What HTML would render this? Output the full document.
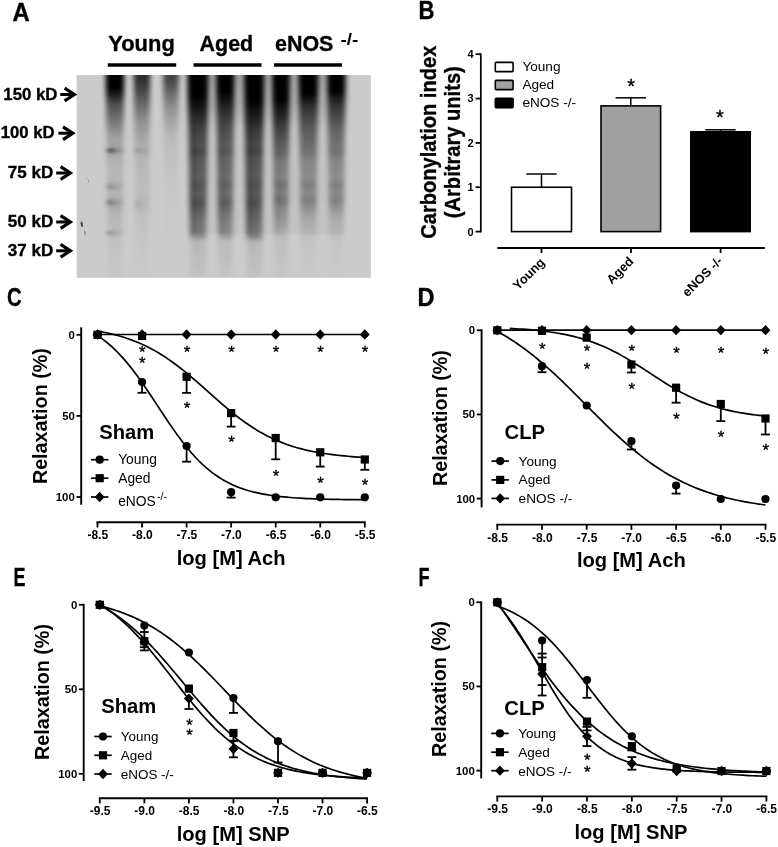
<!DOCTYPE html>
<html lang="en"><head><meta charset="utf-8"><title>Figure</title>
<style>
html,body{margin:0;padding:0;background:#fff;}
svg{display:block;font-family:'Liberation Sans', Arial, Helvetica, sans-serif;}
</style></head>
<body>
<svg width="778" height="847" viewBox="0 0 778 847" font-family="'Liberation Sans', Arial, Helvetica, sans-serif" fill="#000">
<rect x="0" y="0" width="778" height="847" fill="#fff"/>
<text x="12.60" y="21.20" font-size="25" font-weight="bold" textLength="17.20" lengthAdjust="spacingAndGlyphs" stroke="#000" stroke-width="0.35">A</text>
<text x="418.40" y="18.60" font-size="25" font-weight="bold" textLength="16.00" lengthAdjust="spacingAndGlyphs" stroke="#000" stroke-width="0.35">B</text>
<text x="7.00" y="306.10" font-size="25" font-weight="bold" textLength="14.60" lengthAdjust="spacingAndGlyphs" stroke="#000" stroke-width="0.35">C</text>
<text x="417.60" y="306.00" font-size="25" font-weight="bold" textLength="17.00" lengthAdjust="spacingAndGlyphs" stroke="#000" stroke-width="0.35">D</text>
<text x="13.60" y="586.00" font-size="25" font-weight="bold" textLength="12.00" lengthAdjust="spacingAndGlyphs" stroke="#000" stroke-width="0.35">E</text>
<text x="418.40" y="586.00" font-size="25" font-weight="bold" textLength="11.00" lengthAdjust="spacingAndGlyphs" stroke="#000" stroke-width="0.35">F</text>
<defs>
<clipPath id="blotclip"><rect x="76.6" y="75.1" width="294.30" height="202.70"/></clipPath>
<filter id="bblur" x="-20%" y="-20%" width="140%" height="140%"><feGaussianBlur stdDeviation="2.6 1.8"/></filter>
<linearGradient id="haze" gradientUnits="userSpaceOnUse" x1="0" y1="60" x2="0" y2="130"><stop offset="0" stop-color="#000" stop-opacity=".22"/><stop offset=".5" stop-color="#000" stop-opacity=".16"/><stop offset="1" stop-color="#000" stop-opacity="0"/></linearGradient>
<linearGradient id="lg0" gradientUnits="userSpaceOnUse" x1="0" y1="60" x2="0" y2="278">
<stop offset="0.0000" stop-color="#000" stop-opacity="1"/>
<stop offset="0.1284" stop-color="#000" stop-opacity="1"/>
<stop offset="0.1606" stop-color="#000" stop-opacity="0.85"/>
<stop offset="0.2064" stop-color="#000" stop-opacity="0.6"/>
<stop offset="0.2752" stop-color="#000" stop-opacity="0.43"/>
<stop offset="0.3211" stop-color="#000" stop-opacity="0.3"/>
<stop offset="0.3624" stop-color="#000" stop-opacity="0.2"/>
<stop offset="0.3991" stop-color="#000" stop-opacity="0.2"/>
<stop offset="0.4156" stop-color="#000" stop-opacity="0.32"/>
<stop offset="0.4358" stop-color="#000" stop-opacity="0.16"/>
<stop offset="0.5046" stop-color="#000" stop-opacity="0.1"/>
<stop offset="0.5596" stop-color="#000" stop-opacity="0.12"/>
<stop offset="0.5803" stop-color="#000" stop-opacity="0.2"/>
<stop offset="0.6055" stop-color="#000" stop-opacity="0.12"/>
<stop offset="0.6330" stop-color="#000" stop-opacity="0.14"/>
<stop offset="0.6541" stop-color="#000" stop-opacity="0.24"/>
<stop offset="0.6881" stop-color="#000" stop-opacity="0.12"/>
<stop offset="0.7706" stop-color="#000" stop-opacity="0.08"/>
<stop offset="0.7936" stop-color="#000" stop-opacity="0.16"/>
<stop offset="0.8165" stop-color="#000" stop-opacity="0.05"/>
<stop offset="1.0000" stop-color="#000" stop-opacity="0.02"/>
</linearGradient>
<linearGradient id="lg1" gradientUnits="userSpaceOnUse" x1="0" y1="60" x2="0" y2="278">
<stop offset="0.0000" stop-color="#000" stop-opacity="0.82"/>
<stop offset="0.0688" stop-color="#000" stop-opacity="0.8"/>
<stop offset="0.1147" stop-color="#000" stop-opacity="0.72"/>
<stop offset="0.1606" stop-color="#000" stop-opacity="0.6"/>
<stop offset="0.2064" stop-color="#000" stop-opacity="0.48"/>
<stop offset="0.2752" stop-color="#000" stop-opacity="0.3"/>
<stop offset="0.3440" stop-color="#000" stop-opacity="0.2"/>
<stop offset="0.3899" stop-color="#000" stop-opacity="0.14"/>
<stop offset="0.4156" stop-color="#000" stop-opacity="0.2"/>
<stop offset="0.4404" stop-color="#000" stop-opacity="0.12"/>
<stop offset="0.5505" stop-color="#000" stop-opacity="0.08"/>
<stop offset="0.6239" stop-color="#000" stop-opacity="0.08"/>
<stop offset="0.6560" stop-color="#000" stop-opacity="0.12"/>
<stop offset="0.7110" stop-color="#000" stop-opacity="0.06"/>
<stop offset="0.8257" stop-color="#000" stop-opacity="0.03"/>
<stop offset="1.0000" stop-color="#000" stop-opacity="0.01"/>
</linearGradient>
<linearGradient id="lg2" gradientUnits="userSpaceOnUse" x1="0" y1="60" x2="0" y2="278">
<stop offset="0.0000" stop-color="#000" stop-opacity="0.7"/>
<stop offset="0.0826" stop-color="#000" stop-opacity="0.68"/>
<stop offset="0.1147" stop-color="#000" stop-opacity="0.6"/>
<stop offset="0.1606" stop-color="#000" stop-opacity="0.45"/>
<stop offset="0.2064" stop-color="#000" stop-opacity="0.32"/>
<stop offset="0.2752" stop-color="#000" stop-opacity="0.2"/>
<stop offset="0.3440" stop-color="#000" stop-opacity="0.1"/>
<stop offset="0.4128" stop-color="#000" stop-opacity="0.06"/>
<stop offset="0.5505" stop-color="#000" stop-opacity="0.03"/>
<stop offset="0.7339" stop-color="#000" stop-opacity="0.01"/>
<stop offset="1.0000" stop-color="#000" stop-opacity="0"/>
</linearGradient>
<linearGradient id="lg3" gradientUnits="userSpaceOnUse" x1="0" y1="60" x2="0" y2="278">
<stop offset="0.0000" stop-color="#000" stop-opacity="1"/>
<stop offset="0.1606" stop-color="#000" stop-opacity="1"/>
<stop offset="0.2064" stop-color="#000" stop-opacity="0.9"/>
<stop offset="0.2523" stop-color="#000" stop-opacity="0.8"/>
<stop offset="0.2890" stop-color="#000" stop-opacity="0.72"/>
<stop offset="0.3440" stop-color="#000" stop-opacity="0.64"/>
<stop offset="0.3945" stop-color="#000" stop-opacity="0.59"/>
<stop offset="0.4174" stop-color="#000" stop-opacity="0.64"/>
<stop offset="0.4495" stop-color="#000" stop-opacity="0.56"/>
<stop offset="0.5275" stop-color="#000" stop-opacity="0.51"/>
<stop offset="0.5780" stop-color="#000" stop-opacity="0.57"/>
<stop offset="0.6147" stop-color="#000" stop-opacity="0.52"/>
<stop offset="0.6541" stop-color="#000" stop-opacity="0.59"/>
<stop offset="0.6972" stop-color="#000" stop-opacity="0.5"/>
<stop offset="0.7431" stop-color="#000" stop-opacity="0.42"/>
<stop offset="0.7890" stop-color="#000" stop-opacity="0.38"/>
<stop offset="0.8073" stop-color="#000" stop-opacity="0.32"/>
<stop offset="0.8303" stop-color="#000" stop-opacity="0.1"/>
<stop offset="0.9174" stop-color="#000" stop-opacity="0.07"/>
<stop offset="1.0000" stop-color="#000" stop-opacity="0.04"/>
</linearGradient>
<linearGradient id="lg4" gradientUnits="userSpaceOnUse" x1="0" y1="60" x2="0" y2="278">
<stop offset="0.0000" stop-color="#000" stop-opacity="1"/>
<stop offset="0.1468" stop-color="#000" stop-opacity="1"/>
<stop offset="0.1927" stop-color="#000" stop-opacity="0.86"/>
<stop offset="0.2385" stop-color="#000" stop-opacity="0.74"/>
<stop offset="0.2844" stop-color="#000" stop-opacity="0.65"/>
<stop offset="0.3440" stop-color="#000" stop-opacity="0.57"/>
<stop offset="0.3945" stop-color="#000" stop-opacity="0.52"/>
<stop offset="0.4174" stop-color="#000" stop-opacity="0.57"/>
<stop offset="0.4495" stop-color="#000" stop-opacity="0.49"/>
<stop offset="0.5275" stop-color="#000" stop-opacity="0.44"/>
<stop offset="0.5780" stop-color="#000" stop-opacity="0.5"/>
<stop offset="0.6147" stop-color="#000" stop-opacity="0.44"/>
<stop offset="0.6541" stop-color="#000" stop-opacity="0.52"/>
<stop offset="0.6972" stop-color="#000" stop-opacity="0.42"/>
<stop offset="0.7431" stop-color="#000" stop-opacity="0.34"/>
<stop offset="0.7890" stop-color="#000" stop-opacity="0.3"/>
<stop offset="0.8073" stop-color="#000" stop-opacity="0.24"/>
<stop offset="0.8303" stop-color="#000" stop-opacity="0.08"/>
<stop offset="0.9174" stop-color="#000" stop-opacity="0.06"/>
<stop offset="1.0000" stop-color="#000" stop-opacity="0.03"/>
</linearGradient>
<linearGradient id="lg5" gradientUnits="userSpaceOnUse" x1="0" y1="60" x2="0" y2="278">
<stop offset="0.0000" stop-color="#000" stop-opacity="1"/>
<stop offset="0.1835" stop-color="#000" stop-opacity="1"/>
<stop offset="0.2294" stop-color="#000" stop-opacity="0.9"/>
<stop offset="0.2752" stop-color="#000" stop-opacity="0.82"/>
<stop offset="0.3119" stop-color="#000" stop-opacity="0.73"/>
<stop offset="0.3578" stop-color="#000" stop-opacity="0.65"/>
<stop offset="0.3945" stop-color="#000" stop-opacity="0.61"/>
<stop offset="0.4174" stop-color="#000" stop-opacity="0.66"/>
<stop offset="0.4495" stop-color="#000" stop-opacity="0.58"/>
<stop offset="0.5275" stop-color="#000" stop-opacity="0.54"/>
<stop offset="0.5780" stop-color="#000" stop-opacity="0.59"/>
<stop offset="0.6147" stop-color="#000" stop-opacity="0.54"/>
<stop offset="0.6541" stop-color="#000" stop-opacity="0.6"/>
<stop offset="0.6972" stop-color="#000" stop-opacity="0.52"/>
<stop offset="0.7431" stop-color="#000" stop-opacity="0.46"/>
<stop offset="0.7890" stop-color="#000" stop-opacity="0.41"/>
<stop offset="0.8119" stop-color="#000" stop-opacity="0.34"/>
<stop offset="0.8349" stop-color="#000" stop-opacity="0.1"/>
<stop offset="0.9174" stop-color="#000" stop-opacity="0.07"/>
<stop offset="1.0000" stop-color="#000" stop-opacity="0.04"/>
</linearGradient>
<linearGradient id="lg6" gradientUnits="userSpaceOnUse" x1="0" y1="60" x2="0" y2="278">
<stop offset="0.0000" stop-color="#000" stop-opacity="1"/>
<stop offset="0.1835" stop-color="#000" stop-opacity="1"/>
<stop offset="0.2202" stop-color="#000" stop-opacity="0.88"/>
<stop offset="0.2661" stop-color="#000" stop-opacity="0.78"/>
<stop offset="0.3028" stop-color="#000" stop-opacity="0.68"/>
<stop offset="0.3440" stop-color="#000" stop-opacity="0.6"/>
<stop offset="0.3899" stop-color="#000" stop-opacity="0.52"/>
<stop offset="0.4312" stop-color="#000" stop-opacity="0.47"/>
<stop offset="0.4587" stop-color="#000" stop-opacity="0.38"/>
<stop offset="0.5413" stop-color="#000" stop-opacity="0.33"/>
<stop offset="0.5734" stop-color="#000" stop-opacity="0.42"/>
<stop offset="0.6055" stop-color="#000" stop-opacity="0.35"/>
<stop offset="0.6486" stop-color="#000" stop-opacity="0.42"/>
<stop offset="0.6789" stop-color="#000" stop-opacity="0.3"/>
<stop offset="0.7294" stop-color="#000" stop-opacity="0.24"/>
<stop offset="0.7936" stop-color="#000" stop-opacity="0.12"/>
<stop offset="0.8257" stop-color="#000" stop-opacity="0.06"/>
<stop offset="1.0000" stop-color="#000" stop-opacity="0.02"/>
</linearGradient>
<linearGradient id="lg7" gradientUnits="userSpaceOnUse" x1="0" y1="60" x2="0" y2="278">
<stop offset="0.0000" stop-color="#000" stop-opacity="1"/>
<stop offset="0.1560" stop-color="#000" stop-opacity="1"/>
<stop offset="0.1835" stop-color="#000" stop-opacity="0.86"/>
<stop offset="0.2156" stop-color="#000" stop-opacity="0.73"/>
<stop offset="0.2752" stop-color="#000" stop-opacity="0.6"/>
<stop offset="0.3303" stop-color="#000" stop-opacity="0.52"/>
<stop offset="0.3899" stop-color="#000" stop-opacity="0.45"/>
<stop offset="0.4312" stop-color="#000" stop-opacity="0.41"/>
<stop offset="0.4587" stop-color="#000" stop-opacity="0.33"/>
<stop offset="0.5413" stop-color="#000" stop-opacity="0.28"/>
<stop offset="0.5734" stop-color="#000" stop-opacity="0.36"/>
<stop offset="0.6055" stop-color="#000" stop-opacity="0.3"/>
<stop offset="0.6486" stop-color="#000" stop-opacity="0.36"/>
<stop offset="0.6789" stop-color="#000" stop-opacity="0.26"/>
<stop offset="0.7294" stop-color="#000" stop-opacity="0.15"/>
<stop offset="0.7936" stop-color="#000" stop-opacity="0.08"/>
<stop offset="0.8257" stop-color="#000" stop-opacity="0.04"/>
<stop offset="1.0000" stop-color="#000" stop-opacity="0.01"/>
</linearGradient>
<linearGradient id="lg8" gradientUnits="userSpaceOnUse" x1="0" y1="60" x2="0" y2="278">
<stop offset="0.0000" stop-color="#000" stop-opacity="1"/>
<stop offset="0.1422" stop-color="#000" stop-opacity="1"/>
<stop offset="0.1743" stop-color="#000" stop-opacity="0.84"/>
<stop offset="0.2156" stop-color="#000" stop-opacity="0.69"/>
<stop offset="0.2752" stop-color="#000" stop-opacity="0.57"/>
<stop offset="0.3303" stop-color="#000" stop-opacity="0.48"/>
<stop offset="0.4037" stop-color="#000" stop-opacity="0.4"/>
<stop offset="0.4220" stop-color="#000" stop-opacity="0.44"/>
<stop offset="0.4495" stop-color="#000" stop-opacity="0.33"/>
<stop offset="0.5413" stop-color="#000" stop-opacity="0.28"/>
<stop offset="0.5734" stop-color="#000" stop-opacity="0.36"/>
<stop offset="0.6055" stop-color="#000" stop-opacity="0.3"/>
<stop offset="0.6486" stop-color="#000" stop-opacity="0.34"/>
<stop offset="0.6789" stop-color="#000" stop-opacity="0.24"/>
<stop offset="0.7294" stop-color="#000" stop-opacity="0.13"/>
<stop offset="0.7936" stop-color="#000" stop-opacity="0.07"/>
<stop offset="0.8257" stop-color="#000" stop-opacity="0.03"/>
<stop offset="1.0000" stop-color="#000" stop-opacity="0.01"/>
</linearGradient>
</defs>
<rect x="76.6" y="75.1" width="294.30" height="202.70" fill="#cbcbcb"/>
<g clip-path="url(#blotclip)"><g filter="url(#bblur)">
<rect x="186" y="60" width="162" height="70" fill="url(#haze)"/>
<rect x="188" y="100" width="157" height="134" fill="#000" opacity="0.04"/>
<rect x="190.5" y="120" width="5" height="114" fill="#000" opacity="0.16"/>
<rect x="218.5" y="120" width="5" height="114" fill="#000" opacity="0.12"/>
<rect x="246.5" y="120" width="5" height="114" fill="#000" opacity="0.18"/>
<rect x="274.5" y="120" width="5" height="114" fill="#000" opacity="0.08"/>
<path d="M105.50 60L124.50 60L121.84 278L108.16 278Z" fill="url(#lg0)"/>
<path d="M133.50 60L150.50 60L148.12 278L135.88 278Z" fill="url(#lg1)"/>
<path d="M163.00 60L179.00 60L176.76 278L165.24 278Z" fill="url(#lg2)"/>
<path d="M187.50 60L208.50 60L205.56 278L190.44 278Z" fill="url(#lg3)"/>
<path d="M216.05 60L234.55 60L231.96 278L218.64 278Z" fill="url(#lg4)"/>
<path d="M243.95 60L264.45 60L261.58 278L246.82 278Z" fill="url(#lg5)"/>
<path d="M272.00 60L290.00 60L287.48 278L274.52 278Z" fill="url(#lg6)"/>
<path d="M298.40 60L318.40 60L315.60 278L301.20 278Z" fill="url(#lg7)"/>
<path d="M327.05 60L345.55 60L342.96 278L329.64 278Z" fill="url(#lg8)"/>
<ellipse cx="110.8" cy="150.6" rx="4.2" ry="2.0" fill="#000" opacity="0.5"/>
<ellipse cx="109.8" cy="186.5" rx="4" ry="3" fill="#000" opacity="0.14"/>
<ellipse cx="109.8" cy="202.6" rx="4" ry="3" fill="#000" opacity="0.22"/>
<ellipse cx="109.2" cy="233" rx="2.6" ry="1.8" fill="#000" opacity="0.3"/>
<ellipse cx="137.6" cy="150.6" rx="2.6" ry="1.6" fill="#000" opacity="0.18"/>
<ellipse cx="137.2" cy="204" rx="2" ry="4" fill="#000" opacity="0.1"/>
</g>
<ellipse cx="81.8" cy="224.3" rx="1.1" ry="2.9" fill="#222" opacity=".8" transform="rotate(-12 81.8 224.3)"/>
<ellipse cx="84.8" cy="233.0" rx="0.7" ry="2.6" fill="#444" opacity=".55" transform="rotate(-8 84.8 233)"/>
<path d="M87 178 q2.5 1 1.5 5" stroke="#999" stroke-width="0.8" fill="none"/>
</g>
<text x="108.20" y="51.20" font-size="22.6" font-weight="bold" textLength="66.60" lengthAdjust="spacingAndGlyphs" stroke="#000" stroke-width="0.35">Young</text>
<text x="199.60" y="51.20" font-size="22.6" font-weight="bold" textLength="53.60" lengthAdjust="spacingAndGlyphs" stroke="#000" stroke-width="0.35">Aged</text>
<text x="275.00" y="51.20" font-size="22.6" font-weight="bold" textLength="58.40" lengthAdjust="spacingAndGlyphs" stroke="#000" stroke-width="0.35">eNOS</text>
<text x="340.40" y="44.60" font-size="17" font-weight="bold" textLength="17.80" lengthAdjust="spacingAndGlyphs">-/-</text>
<line x1="107.80" y1="65.00" x2="176.20" y2="65.00" stroke="#000" stroke-width="3.4"/>
<line x1="193.50" y1="65.00" x2="261.60" y2="65.00" stroke="#000" stroke-width="3.4"/>
<line x1="274.00" y1="65.00" x2="342.00" y2="65.00" stroke="#000" stroke-width="3.4"/>
<text x="3.30" y="99.80" font-size="16.2" font-weight="bold" textLength="54.10" lengthAdjust="spacingAndGlyphs" stroke="#000" stroke-width="0.35">150 kD</text>
<line x1="60.20" y1="94.50" x2="73.90" y2="94.50" stroke="#000" stroke-width="3.0"/>
<path d="M64.60 88.10L74.40 94.50L64.60 100.90" fill="none" stroke="#000" stroke-width="3.2" stroke-linejoin="miter"/>
<text x="0.80" y="138.00" font-size="16.2" font-weight="bold" textLength="53.70" lengthAdjust="spacingAndGlyphs" stroke="#000" stroke-width="0.35">100 kD</text>
<line x1="58.40" y1="133.20" x2="72.30" y2="133.20" stroke="#000" stroke-width="3.0"/>
<path d="M63.00 126.80L72.80 133.20L63.00 139.60" fill="none" stroke="#000" stroke-width="3.2" stroke-linejoin="miter"/>
<text x="7.80" y="178.20" font-size="16.2" font-weight="bold" textLength="45.40" lengthAdjust="spacingAndGlyphs" stroke="#000" stroke-width="0.35">75 kD</text>
<line x1="56.20" y1="173.00" x2="69.90" y2="173.00" stroke="#000" stroke-width="3.0"/>
<path d="M60.60 166.60L70.40 173.00L60.60 179.40" fill="none" stroke="#000" stroke-width="3.2" stroke-linejoin="miter"/>
<text x="7.80" y="227.20" font-size="16.2" font-weight="bold" textLength="45.40" lengthAdjust="spacingAndGlyphs" stroke="#000" stroke-width="0.35">50 kD</text>
<line x1="56.20" y1="222.00" x2="69.90" y2="222.00" stroke="#000" stroke-width="3.0"/>
<path d="M60.60 215.60L70.40 222.00L60.60 228.40" fill="none" stroke="#000" stroke-width="3.2" stroke-linejoin="miter"/>
<text x="7.80" y="256.20" font-size="16.2" font-weight="bold" textLength="45.40" lengthAdjust="spacingAndGlyphs" stroke="#000" stroke-width="0.35">37 kD</text>
<line x1="56.20" y1="250.80" x2="69.90" y2="250.80" stroke="#000" stroke-width="3.0"/>
<path d="M60.60 244.40L70.40 250.80L60.60 257.20" fill="none" stroke="#000" stroke-width="3.2" stroke-linejoin="miter"/>
<line x1="480.80" y1="53.30" x2="480.80" y2="232.50" stroke="#000" stroke-width="1.7"/>
<line x1="475.60" y1="231.60" x2="480.80" y2="231.60" stroke="#000" stroke-width="1.8"/>
<text x="473.60" y="235.50" font-size="11" font-weight="bold" text-anchor="end">0</text>
<line x1="475.60" y1="187.25" x2="480.80" y2="187.25" stroke="#000" stroke-width="1.8"/>
<text x="473.60" y="191.15" font-size="11" font-weight="bold" text-anchor="end">1</text>
<line x1="475.60" y1="142.90" x2="480.80" y2="142.90" stroke="#000" stroke-width="1.8"/>
<text x="473.60" y="146.80" font-size="11" font-weight="bold" text-anchor="end">2</text>
<line x1="475.60" y1="98.55" x2="480.80" y2="98.55" stroke="#000" stroke-width="1.8"/>
<text x="473.60" y="102.45" font-size="11" font-weight="bold" text-anchor="end">3</text>
<line x1="475.60" y1="54.20" x2="480.80" y2="54.20" stroke="#000" stroke-width="1.8"/>
<text x="473.60" y="58.10" font-size="11" font-weight="bold" text-anchor="end">4</text>
<line x1="497.40" y1="248.00" x2="764.80" y2="248.00" stroke="#000" stroke-width="1.8"/>
<line x1="541.50" y1="248.00" x2="541.50" y2="253.00" stroke="#000" stroke-width="1.8"/>
<line x1="631.00" y1="248.00" x2="631.00" y2="253.00" stroke="#000" stroke-width="1.8"/>
<line x1="720.60" y1="248.00" x2="720.60" y2="253.00" stroke="#000" stroke-width="1.8"/>
<line x1="541.50" y1="174.00" x2="541.50" y2="187.25" stroke="#000" stroke-width="1.5"/>
<line x1="526.30" y1="174.00" x2="556.70" y2="174.00" stroke="#000" stroke-width="1.5"/>
<rect x="511.50" y="187.25" width="60.00" height="44.35" fill="#fff" stroke="#000" stroke-width="1.6"/>
<line x1="630.80" y1="97.80" x2="630.80" y2="105.87" stroke="#000" stroke-width="1.5"/>
<line x1="615.60" y1="97.80" x2="646.00" y2="97.80" stroke="#000" stroke-width="1.5"/>
<rect x="601.00" y="105.87" width="59.60" height="125.73" fill="#a0a0a0" stroke="#000" stroke-width="1.6"/>
<line x1="720.50" y1="129.80" x2="720.50" y2="131.81" stroke="#000" stroke-width="1.5"/>
<line x1="705.30" y1="129.80" x2="735.70" y2="129.80" stroke="#000" stroke-width="1.5"/>
<rect x="690.80" y="131.81" width="59.40" height="99.79" fill="#000" stroke="#000" stroke-width="1.6"/>
<text x="631.20" y="92.66" font-size="20" text-anchor="middle" stroke="#000" stroke-width="0.35">*</text>
<text x="719.80" y="124.36" font-size="20" text-anchor="middle" stroke="#000" stroke-width="0.35">*</text>
<rect x="495.3" y="62.40" width="17.8" height="9.2" rx="0.8" fill="#fff" stroke="#000" stroke-width="1.6"/>
<text x="522.40" y="71.40" font-size="13.6">Young</text>
<rect x="495.3" y="80.40" width="17.8" height="9.2" rx="0.8" fill="#a0a0a0" stroke="#000" stroke-width="1.6"/>
<text x="522.40" y="89.40" font-size="13.6">Aged</text>
<rect x="495.3" y="98.40" width="17.8" height="9.2" rx="0.8" fill="#000" stroke="#000" stroke-width="1.6"/>
<text x="522.40" y="107.40" font-size="13.6">eNOS -/-</text>
<text x="545.60" y="263.20" font-size="12.8" font-weight="bold" text-anchor="end" transform="rotate(-45 545.60 263.20)">Young</text>
<text x="634.30" y="262.20" font-size="12.8" font-weight="bold" text-anchor="end" transform="rotate(-45 634.30 262.20)">Aged</text>
<text x="723.30" y="261.70" font-size="12.8" font-weight="bold" text-anchor="end" transform="rotate(-45 723.30 261.70)">eNOS -/-</text>
<text x="436.00" y="238.70" font-size="22.6" font-weight="bold" textLength="193.00" lengthAdjust="spacingAndGlyphs" transform="rotate(-90 436.00 238.70)" stroke="#000" stroke-width="0.35">Carbonylation index</text>
<text x="460.20" y="218.20" font-size="22.6" font-weight="bold" textLength="152.00" lengthAdjust="spacingAndGlyphs" transform="rotate(-90 460.20 218.20)" stroke="#000" stroke-width="0.35">(Arbitrary units)</text>
<line x1="81.20" y1="327.30" x2="81.20" y2="504.80" stroke="#000" stroke-width="1.9"/>
<line x1="76.40" y1="334.80" x2="81.20" y2="334.80" stroke="#000" stroke-width="1.8"/>
<text x="74.80" y="338.80" font-size="11.4" font-weight="bold" text-anchor="end">0</text>
<line x1="76.40" y1="415.90" x2="81.20" y2="415.90" stroke="#000" stroke-width="1.8"/>
<text x="74.80" y="419.90" font-size="11.4" font-weight="bold" text-anchor="end">50</text>
<line x1="76.40" y1="497.00" x2="81.20" y2="497.00" stroke="#000" stroke-width="1.8"/>
<text x="74.80" y="501.00" font-size="11.4" font-weight="bold" text-anchor="end">100</text>
<line x1="96.55" y1="522.30" x2="365.75" y2="522.30" stroke="#000" stroke-width="1.9"/>
<line x1="97.50" y1="522.30" x2="97.50" y2="527.50" stroke="#000" stroke-width="1.8"/>
<text x="97.80" y="539.30" font-size="12" font-weight="bold" text-anchor="middle">-8.5</text>
<line x1="142.05" y1="522.30" x2="142.05" y2="527.50" stroke="#000" stroke-width="1.8"/>
<text x="142.35" y="539.30" font-size="12" font-weight="bold" text-anchor="middle">-8.0</text>
<line x1="186.60" y1="522.30" x2="186.60" y2="527.50" stroke="#000" stroke-width="1.8"/>
<text x="186.90" y="539.30" font-size="12" font-weight="bold" text-anchor="middle">-7.5</text>
<line x1="231.15" y1="522.30" x2="231.15" y2="527.50" stroke="#000" stroke-width="1.8"/>
<text x="231.45" y="539.30" font-size="12" font-weight="bold" text-anchor="middle">-7.0</text>
<line x1="275.70" y1="522.30" x2="275.70" y2="527.50" stroke="#000" stroke-width="1.8"/>
<text x="276.00" y="539.30" font-size="12" font-weight="bold" text-anchor="middle">-6.5</text>
<line x1="320.25" y1="522.30" x2="320.25" y2="527.50" stroke="#000" stroke-width="1.8"/>
<text x="320.55" y="539.30" font-size="12" font-weight="bold" text-anchor="middle">-6.0</text>
<line x1="364.80" y1="522.30" x2="364.80" y2="527.50" stroke="#000" stroke-width="1.8"/>
<text x="365.10" y="539.30" font-size="12" font-weight="bold" text-anchor="middle">-5.5</text>
<text x="176.70" y="564.80" font-size="20.6" font-weight="bold" textLength="108.80" lengthAdjust="spacingAndGlyphs">log [M] Ach</text>
<text x="46.70" y="484.10" font-size="21" font-weight="bold" textLength="136.00" lengthAdjust="spacingAndGlyphs" transform="rotate(-90 46.70 484.10)">Relaxation (%)</text>
<text x="99.30" y="438.70" font-size="20.2" font-weight="bold">Sham</text>
<line x1="91.00" y1="459.70" x2="108.40" y2="459.70" stroke="#000" stroke-width="1.7"/>
<circle cx="99.70" cy="459.70" r="4.1"/>
<text x="118.20" y="464.20" font-size="13.8">Young</text>
<line x1="91.00" y1="478.20" x2="108.40" y2="478.20" stroke="#000" stroke-width="1.7"/>
<rect x="95.60" y="474.10" width="8.2" height="8.2"/>
<text x="118.20" y="482.80" font-size="13.8">Aged</text>
<line x1="91.00" y1="497.00" x2="108.40" y2="497.00" stroke="#000" stroke-width="1.7"/>
<path d="M94.75 497.00L99.70 491.85L104.65 497.00L99.70 502.15Z"/>
<text x="118.20" y="506.20" font-size="13.8">eNOS</text>
<text x="157.00" y="499.60" font-size="10.5">-/-</text>
<path d="M97.50 335.49L100.88 337.81L104.27 340.33L107.65 343.06L111.03 345.99L114.42 349.14L117.80 352.50L121.18 356.08L124.57 359.88L127.95 363.89L131.34 368.10L134.72 372.50L138.10 377.08L141.49 381.82L144.87 386.69L148.25 391.68L151.64 396.76L155.02 401.88L158.40 407.04L161.79 412.19L165.17 417.30L168.55 422.35L171.94 427.30L175.32 432.13L178.71 436.82L182.09 441.34L185.47 445.68L188.86 449.82L192.24 453.76L195.62 457.48L199.01 460.99L202.39 464.27L205.77 467.34L209.16 470.20L212.54 472.86L215.92 475.31L219.31 477.57L222.69 479.65L226.07 481.56L229.46 483.31L232.84 484.91L236.23 486.37L239.61 487.69L242.99 488.90L246.38 489.99L249.76 490.98L253.14 491.88L256.53 492.69L259.91 493.43L263.29 494.09L266.68 494.69L270.06 495.23L273.44 495.71L276.83 496.15L280.21 496.54L283.59 496.90L286.98 497.21L290.36 497.50L293.75 497.76L297.13 497.99L300.51 498.20L303.90 498.38L307.28 498.55L310.66 498.70L314.05 498.83L317.43 498.95L320.81 499.06L324.20 499.16L327.58 499.25L330.96 499.33L334.35 499.40L337.73 499.46L341.12 499.51L344.50 499.56L347.88 499.61L351.27 499.65L354.65 499.69L358.03 499.72L361.42 499.75L364.80 499.77" fill="none" stroke="#000" stroke-width="1.7" stroke-linejoin="round"/>
<path d="M97.50 331.04L100.88 331.65L104.27 332.32L107.65 333.03L111.03 333.81L114.42 334.65L117.80 335.55L121.18 336.52L124.57 337.56L127.95 338.69L131.34 339.89L134.72 341.18L138.10 342.55L141.49 344.02L144.87 345.58L148.25 347.25L151.64 349.01L155.02 350.87L158.40 352.84L161.79 354.90L165.17 357.08L168.55 359.35L171.94 361.72L175.32 364.19L178.71 366.75L182.09 369.40L185.47 372.12L188.86 374.92L192.24 377.78L195.62 380.69L199.01 383.64L202.39 386.63L205.77 389.64L209.16 392.65L212.54 395.67L215.92 398.66L219.31 401.63L222.69 404.57L226.07 407.45L229.46 410.28L232.84 413.04L236.23 415.72L239.61 418.32L242.99 420.83L246.38 423.25L249.76 425.57L253.14 427.79L256.53 429.91L259.91 431.92L263.29 433.83L266.68 435.64L270.06 437.35L273.44 438.95L276.83 440.47L280.21 441.89L283.59 443.21L286.98 444.46L290.36 445.61L293.75 446.69L297.13 447.70L300.51 448.63L303.90 449.50L307.28 450.30L310.66 451.05L314.05 451.73L317.43 452.37L320.81 452.96L324.20 453.50L327.58 454.00L330.96 454.46L334.35 454.89L337.73 455.28L341.12 455.64L344.50 455.97L347.88 456.27L351.27 456.55L354.65 456.81L358.03 457.04L361.42 457.26L364.80 457.46" fill="none" stroke="#000" stroke-width="1.7" stroke-linejoin="round"/>
<line x1="97.50" y1="334.50" x2="364.80" y2="334.50" stroke="#000" stroke-width="1.7"/>
<line x1="142.05" y1="382.00" x2="142.05" y2="392.80" stroke="#000" stroke-width="1.8"/>
<line x1="137.60" y1="392.80" x2="146.50" y2="392.80" stroke="#000" stroke-width="1.8"/>
<line x1="186.60" y1="446.00" x2="186.60" y2="461.70" stroke="#000" stroke-width="1.8"/>
<line x1="182.15" y1="461.70" x2="191.05" y2="461.70" stroke="#000" stroke-width="1.8"/>
<line x1="231.15" y1="492.20" x2="231.15" y2="497.60" stroke="#000" stroke-width="1.8"/>
<line x1="226.70" y1="497.60" x2="235.60" y2="497.60" stroke="#000" stroke-width="1.8"/>
<line x1="186.60" y1="376.80" x2="186.60" y2="392.90" stroke="#000" stroke-width="1.8"/>
<line x1="182.15" y1="392.90" x2="191.05" y2="392.90" stroke="#000" stroke-width="1.8"/>
<line x1="231.15" y1="413.10" x2="231.15" y2="426.60" stroke="#000" stroke-width="1.8"/>
<line x1="226.70" y1="426.60" x2="235.60" y2="426.60" stroke="#000" stroke-width="1.8"/>
<line x1="275.70" y1="438.00" x2="275.70" y2="459.30" stroke="#000" stroke-width="1.8"/>
<line x1="271.25" y1="459.30" x2="280.15" y2="459.30" stroke="#000" stroke-width="1.8"/>
<line x1="320.25" y1="452.30" x2="320.25" y2="466.60" stroke="#000" stroke-width="1.8"/>
<line x1="315.80" y1="466.60" x2="324.70" y2="466.60" stroke="#000" stroke-width="1.8"/>
<line x1="364.80" y1="459.50" x2="364.80" y2="469.80" stroke="#000" stroke-width="1.8"/>
<line x1="360.35" y1="469.80" x2="369.25" y2="469.80" stroke="#000" stroke-width="1.8"/>
<circle cx="97.50" cy="334.80" r="4.1"/>
<circle cx="142.05" cy="382.00" r="4.1"/>
<circle cx="186.60" cy="446.00" r="4.1"/>
<circle cx="231.15" cy="492.20" r="4.1"/>
<circle cx="275.70" cy="497.30" r="4.1"/>
<circle cx="320.25" cy="497.30" r="4.1"/>
<circle cx="364.80" cy="497.30" r="4.1"/>
<rect x="93.40" y="330.70" width="8.2" height="8.2"/>
<rect x="137.95" y="331.90" width="8.2" height="8.2"/>
<rect x="182.50" y="372.70" width="8.2" height="8.2"/>
<rect x="227.05" y="409.00" width="8.2" height="8.2"/>
<rect x="271.60" y="433.90" width="8.2" height="8.2"/>
<rect x="316.15" y="448.20" width="8.2" height="8.2"/>
<rect x="360.70" y="455.40" width="8.2" height="8.2"/>
<path d="M92.55 334.50L97.50 329.35L102.45 334.50L97.50 339.65Z"/>
<path d="M137.10 334.50L142.05 329.35L147.00 334.50L142.05 339.65Z"/>
<path d="M181.65 334.50L186.60 329.35L191.55 334.50L186.60 339.65Z"/>
<path d="M226.20 334.50L231.15 329.35L236.10 334.50L231.15 339.65Z"/>
<path d="M270.75 334.50L275.70 329.35L280.65 334.50L275.70 339.65Z"/>
<path d="M315.30 334.50L320.25 329.35L325.20 334.50L320.25 339.65Z"/>
<path d="M359.85 334.50L364.80 329.35L369.75 334.50L364.80 339.65Z"/>
<text x="142.35" y="358.02" font-size="16.8" text-anchor="middle" stroke="#000" stroke-width="0.35">*</text>
<text x="186.90" y="358.02" font-size="16.8" text-anchor="middle" stroke="#000" stroke-width="0.35">*</text>
<text x="231.45" y="358.02" font-size="16.8" text-anchor="middle" stroke="#000" stroke-width="0.35">*</text>
<text x="276.00" y="358.02" font-size="16.8" text-anchor="middle" stroke="#000" stroke-width="0.35">*</text>
<text x="320.55" y="358.02" font-size="16.8" text-anchor="middle" stroke="#000" stroke-width="0.35">*</text>
<text x="365.10" y="358.02" font-size="16.8" text-anchor="middle" stroke="#000" stroke-width="0.35">*</text>
<text x="142.35" y="369.42" font-size="16.8" text-anchor="middle" stroke="#000" stroke-width="0.35">*</text>
<text x="186.90" y="414.02" font-size="16.8" text-anchor="middle" stroke="#000" stroke-width="0.35">*</text>
<text x="231.45" y="448.02" font-size="16.8" text-anchor="middle" stroke="#000" stroke-width="0.35">*</text>
<text x="276.00" y="482.42" font-size="16.8" text-anchor="middle" stroke="#000" stroke-width="0.35">*</text>
<text x="320.55" y="489.42" font-size="16.8" text-anchor="middle" stroke="#000" stroke-width="0.35">*</text>
<text x="365.10" y="490.82" font-size="16.8" text-anchor="middle" stroke="#000" stroke-width="0.35">*</text>
<line x1="481.60" y1="329.30" x2="481.60" y2="507.40" stroke="#000" stroke-width="1.9"/>
<line x1="476.80" y1="330.30" x2="481.60" y2="330.30" stroke="#000" stroke-width="1.8"/>
<text x="475.20" y="334.30" font-size="11.4" font-weight="bold" text-anchor="end">0</text>
<line x1="476.80" y1="414.45" x2="481.60" y2="414.45" stroke="#000" stroke-width="1.8"/>
<text x="475.20" y="418.45" font-size="11.4" font-weight="bold" text-anchor="end">50</text>
<line x1="476.80" y1="498.60" x2="481.60" y2="498.60" stroke="#000" stroke-width="1.8"/>
<text x="475.20" y="502.60" font-size="11.4" font-weight="bold" text-anchor="end">100</text>
<line x1="496.35" y1="524.60" x2="766.45" y2="524.60" stroke="#000" stroke-width="1.9"/>
<line x1="497.30" y1="524.60" x2="497.30" y2="529.80" stroke="#000" stroke-width="1.8"/>
<text x="497.60" y="541.60" font-size="12" font-weight="bold" text-anchor="middle">-8.5</text>
<line x1="542.00" y1="524.60" x2="542.00" y2="529.80" stroke="#000" stroke-width="1.8"/>
<text x="542.30" y="541.60" font-size="12" font-weight="bold" text-anchor="middle">-8.0</text>
<line x1="586.70" y1="524.60" x2="586.70" y2="529.80" stroke="#000" stroke-width="1.8"/>
<text x="587.00" y="541.60" font-size="12" font-weight="bold" text-anchor="middle">-7.5</text>
<line x1="631.40" y1="524.60" x2="631.40" y2="529.80" stroke="#000" stroke-width="1.8"/>
<text x="631.70" y="541.60" font-size="12" font-weight="bold" text-anchor="middle">-7.0</text>
<line x1="676.10" y1="524.60" x2="676.10" y2="529.80" stroke="#000" stroke-width="1.8"/>
<text x="676.40" y="541.60" font-size="12" font-weight="bold" text-anchor="middle">-6.5</text>
<line x1="720.80" y1="524.60" x2="720.80" y2="529.80" stroke="#000" stroke-width="1.8"/>
<text x="721.10" y="541.60" font-size="12" font-weight="bold" text-anchor="middle">-6.0</text>
<line x1="765.50" y1="524.60" x2="765.50" y2="529.80" stroke="#000" stroke-width="1.8"/>
<text x="765.80" y="541.60" font-size="12" font-weight="bold" text-anchor="middle">-5.5</text>
<text x="576.90" y="566.80" font-size="20.6" font-weight="bold" textLength="108.80" lengthAdjust="spacingAndGlyphs">log [M] Ach</text>
<text x="447.00" y="486.10" font-size="21" font-weight="bold" textLength="136.00" lengthAdjust="spacingAndGlyphs" transform="rotate(-90 447.00 486.10)">Relaxation (%)</text>
<text x="504.60" y="438.60" font-size="20.2" font-weight="bold">CLP</text>
<line x1="491.50" y1="461.10" x2="508.90" y2="461.10" stroke="#000" stroke-width="1.7"/>
<circle cx="500.20" cy="461.10" r="4.1"/>
<text x="518.60" y="465.60" font-size="13.6">Young</text>
<line x1="491.50" y1="479.90" x2="508.90" y2="479.90" stroke="#000" stroke-width="1.7"/>
<rect x="496.10" y="475.80" width="8.2" height="8.2"/>
<text x="518.60" y="484.40" font-size="13.6">Aged</text>
<line x1="491.50" y1="498.40" x2="508.90" y2="498.40" stroke="#000" stroke-width="1.7"/>
<path d="M495.25 498.40L500.20 493.25L505.15 498.40L500.20 503.55Z"/>
<text x="518.60" y="503.00" font-size="13.6">eNOS -/-</text>
<path d="M497.30 331.40L500.69 333.28L504.09 335.25L507.48 337.30L510.88 339.44L514.27 341.65L517.67 343.95L521.06 346.34L524.46 348.81L527.85 351.36L531.25 353.99L534.64 356.70L538.04 359.49L541.43 362.35L544.83 365.28L548.22 368.29L551.62 371.36L555.01 374.49L558.41 377.67L561.80 380.91L565.20 384.19L568.59 387.51L571.99 390.86L575.38 394.24L578.78 397.64L582.17 401.06L585.57 404.48L588.96 407.90L592.36 411.32L595.75 414.72L599.15 418.10L602.54 421.45L605.94 424.77L609.33 428.05L612.73 431.29L616.12 434.47L619.52 437.60L622.91 440.67L626.31 443.67L629.70 446.60L633.10 449.46L636.49 452.25L639.89 454.96L643.28 457.59L646.68 460.14L650.07 462.61L653.47 464.99L656.86 467.29L660.26 469.50L663.65 471.64L667.05 473.68L670.44 475.65L673.84 477.54L677.23 479.34L680.63 481.07L684.02 482.73L687.42 484.30L690.81 485.81L694.21 487.24L697.60 488.61L701.00 489.91L704.39 491.14L707.79 492.32L711.18 493.43L714.58 494.49L717.97 495.49L721.37 496.44L724.76 497.34L728.16 498.20L731.55 499.00L734.95 499.77L738.34 500.49L741.74 501.17L745.13 501.81L748.53 502.42L751.92 502.99L755.32 503.53L758.71 504.04L762.11 504.52L765.50 504.98" fill="none" stroke="#000" stroke-width="1.7" stroke-linejoin="round"/>
<path d="M509.82 328.45L513.05 328.62L516.29 328.80L519.53 328.99L522.76 329.21L526.00 329.44L529.24 329.70L532.47 329.97L535.71 330.27L538.94 330.60L542.18 330.96L545.42 331.35L548.65 331.77L551.89 332.22L555.13 332.72L558.36 333.25L561.60 333.83L564.84 334.45L568.07 335.13L571.31 335.85L574.55 336.63L577.78 337.47L581.02 338.37L584.26 339.33L587.49 340.36L590.73 341.46L593.97 342.62L597.20 343.86L600.44 345.17L603.67 346.56L606.91 348.02L610.15 349.55L613.38 351.16L616.62 352.83L619.86 354.57L623.09 356.38L626.33 358.25L629.57 360.17L632.80 362.15L636.04 364.16L639.28 366.21L642.51 368.29L645.75 370.39L648.99 372.50L652.22 374.61L655.46 376.72L658.70 378.81L661.93 380.88L665.17 382.91L668.40 384.91L671.64 386.86L674.88 388.76L678.11 390.61L681.35 392.39L684.59 394.10L687.82 395.75L691.06 397.32L694.30 398.82L697.53 400.25L700.77 401.60L704.01 402.88L707.24 404.09L710.48 405.22L713.72 406.29L716.95 407.29L720.19 408.22L723.43 409.10L726.66 409.91L729.90 410.67L733.13 411.37L736.37 412.02L739.61 412.63L742.84 413.18L746.08 413.70L749.32 414.18L752.55 414.62L755.79 415.02L759.03 415.40L762.26 415.74L765.50 416.06" fill="none" stroke="#000" stroke-width="1.7" stroke-linejoin="round"/>
<line x1="497.30" y1="330.20" x2="765.50" y2="330.20" stroke="#000" stroke-width="1.7"/>
<line x1="542.00" y1="366.20" x2="542.00" y2="372.20" stroke="#000" stroke-width="1.8"/>
<line x1="537.55" y1="372.20" x2="546.45" y2="372.20" stroke="#000" stroke-width="1.8"/>
<line x1="631.40" y1="441.20" x2="631.40" y2="449.50" stroke="#000" stroke-width="1.8"/>
<line x1="626.95" y1="449.50" x2="635.85" y2="449.50" stroke="#000" stroke-width="1.8"/>
<line x1="676.10" y1="485.60" x2="676.10" y2="493.60" stroke="#000" stroke-width="1.8"/>
<line x1="671.65" y1="493.60" x2="680.55" y2="493.60" stroke="#000" stroke-width="1.8"/>
<line x1="631.40" y1="364.50" x2="631.40" y2="372.50" stroke="#000" stroke-width="1.8"/>
<line x1="626.95" y1="372.50" x2="635.85" y2="372.50" stroke="#000" stroke-width="1.8"/>
<line x1="676.10" y1="387.70" x2="676.10" y2="402.70" stroke="#000" stroke-width="1.8"/>
<line x1="671.65" y1="402.70" x2="680.55" y2="402.70" stroke="#000" stroke-width="1.8"/>
<line x1="720.80" y1="404.00" x2="720.80" y2="421.10" stroke="#000" stroke-width="1.8"/>
<line x1="716.35" y1="421.10" x2="725.25" y2="421.10" stroke="#000" stroke-width="1.8"/>
<line x1="765.50" y1="418.50" x2="765.50" y2="434.50" stroke="#000" stroke-width="1.8"/>
<line x1="761.05" y1="434.50" x2="769.95" y2="434.50" stroke="#000" stroke-width="1.8"/>
<circle cx="497.30" cy="330.30" r="4.1"/>
<circle cx="542.00" cy="366.20" r="4.1"/>
<circle cx="586.70" cy="405.50" r="4.1"/>
<circle cx="631.40" cy="441.20" r="4.1"/>
<circle cx="676.10" cy="485.60" r="4.1"/>
<circle cx="720.80" cy="499.00" r="4.1"/>
<circle cx="765.50" cy="499.00" r="4.1"/>
<rect x="493.20" y="326.20" width="8.2" height="8.2"/>
<rect x="537.90" y="326.70" width="8.2" height="8.2"/>
<rect x="582.60" y="333.50" width="8.2" height="8.2"/>
<rect x="627.30" y="360.40" width="8.2" height="8.2"/>
<rect x="672.00" y="383.60" width="8.2" height="8.2"/>
<rect x="716.70" y="399.90" width="8.2" height="8.2"/>
<rect x="761.40" y="414.40" width="8.2" height="8.2"/>
<path d="M492.35 330.20L497.30 325.05L502.25 330.20L497.30 335.35Z"/>
<path d="M537.05 330.20L542.00 325.05L546.95 330.20L542.00 335.35Z"/>
<path d="M581.75 330.20L586.70 325.05L591.65 330.20L586.70 335.35Z"/>
<path d="M626.45 330.20L631.40 325.05L636.35 330.20L631.40 335.35Z"/>
<path d="M671.15 330.20L676.10 325.05L681.05 330.20L676.10 335.35Z"/>
<path d="M715.85 330.20L720.80 325.05L725.75 330.20L720.80 335.35Z"/>
<path d="M760.55 330.20L765.50 325.05L770.45 330.20L765.50 335.35Z"/>
<text x="542.30" y="355.02" font-size="16.8" text-anchor="middle" stroke="#000" stroke-width="0.35">*</text>
<text x="587.00" y="357.22" font-size="16.8" text-anchor="middle" stroke="#000" stroke-width="0.35">*</text>
<text x="631.70" y="357.02" font-size="16.8" text-anchor="middle" stroke="#000" stroke-width="0.35">*</text>
<text x="676.40" y="358.62" font-size="16.8" text-anchor="middle" stroke="#000" stroke-width="0.35">*</text>
<text x="721.10" y="358.62" font-size="16.8" text-anchor="middle" stroke="#000" stroke-width="0.35">*</text>
<text x="765.80" y="359.92" font-size="16.8" text-anchor="middle" stroke="#000" stroke-width="0.35">*</text>
<text x="587.00" y="375.02" font-size="16.8" text-anchor="middle" stroke="#000" stroke-width="0.35">*</text>
<text x="631.70" y="395.22" font-size="16.8" text-anchor="middle" stroke="#000" stroke-width="0.35">*</text>
<text x="676.40" y="424.62" font-size="16.8" text-anchor="middle" stroke="#000" stroke-width="0.35">*</text>
<text x="721.10" y="443.32" font-size="16.8" text-anchor="middle" stroke="#000" stroke-width="0.35">*</text>
<text x="765.80" y="455.92" font-size="16.8" text-anchor="middle" stroke="#000" stroke-width="0.35">*</text>
<line x1="83.70" y1="603.80" x2="83.70" y2="781.00" stroke="#000" stroke-width="1.9"/>
<line x1="78.90" y1="604.80" x2="83.70" y2="604.80" stroke="#000" stroke-width="1.8"/>
<text x="77.30" y="608.80" font-size="11.4" font-weight="bold" text-anchor="end">0</text>
<line x1="78.90" y1="689.30" x2="83.70" y2="689.30" stroke="#000" stroke-width="1.8"/>
<text x="77.30" y="693.30" font-size="11.4" font-weight="bold" text-anchor="end">50</text>
<line x1="78.90" y1="773.80" x2="83.70" y2="773.80" stroke="#000" stroke-width="1.8"/>
<text x="77.30" y="777.80" font-size="11.4" font-weight="bold" text-anchor="end">100</text>
<line x1="98.85" y1="798.20" x2="368.05" y2="798.20" stroke="#000" stroke-width="1.9"/>
<line x1="99.80" y1="798.20" x2="99.80" y2="803.40" stroke="#000" stroke-width="1.8"/>
<text x="100.10" y="815.20" font-size="12" font-weight="bold" text-anchor="middle">-9.5</text>
<line x1="144.35" y1="798.20" x2="144.35" y2="803.40" stroke="#000" stroke-width="1.8"/>
<text x="144.65" y="815.20" font-size="12" font-weight="bold" text-anchor="middle">-9.0</text>
<line x1="188.90" y1="798.20" x2="188.90" y2="803.40" stroke="#000" stroke-width="1.8"/>
<text x="189.20" y="815.20" font-size="12" font-weight="bold" text-anchor="middle">-8.5</text>
<line x1="233.45" y1="798.20" x2="233.45" y2="803.40" stroke="#000" stroke-width="1.8"/>
<text x="233.75" y="815.20" font-size="12" font-weight="bold" text-anchor="middle">-8.0</text>
<line x1="278.00" y1="798.20" x2="278.00" y2="803.40" stroke="#000" stroke-width="1.8"/>
<text x="278.30" y="815.20" font-size="12" font-weight="bold" text-anchor="middle">-7.5</text>
<line x1="322.55" y1="798.20" x2="322.55" y2="803.40" stroke="#000" stroke-width="1.8"/>
<text x="322.85" y="815.20" font-size="12" font-weight="bold" text-anchor="middle">-7.0</text>
<line x1="367.10" y1="798.20" x2="367.10" y2="803.40" stroke="#000" stroke-width="1.8"/>
<text x="367.40" y="815.20" font-size="12" font-weight="bold" text-anchor="middle">-6.5</text>
<text x="176.70" y="841.00" font-size="20.6" font-weight="bold" textLength="113.00" lengthAdjust="spacingAndGlyphs">log [M] SNP</text>
<text x="49.00" y="760.00" font-size="21" font-weight="bold" textLength="136.00" lengthAdjust="spacingAndGlyphs" transform="rotate(-90 49.00 760.00)">Relaxation (%)</text>
<text x="101.20" y="712.90" font-size="20.2" font-weight="bold">Sham</text>
<line x1="94.30" y1="736.50" x2="111.70" y2="736.50" stroke="#000" stroke-width="1.7"/>
<circle cx="103.00" cy="736.50" r="4.1"/>
<text x="120.80" y="741.20" font-size="13.45">Young</text>
<line x1="94.30" y1="755.30" x2="111.70" y2="755.30" stroke="#000" stroke-width="1.7"/>
<rect x="98.90" y="751.20" width="8.2" height="8.2"/>
<text x="120.80" y="760.00" font-size="13.45">Aged</text>
<line x1="94.30" y1="774.00" x2="111.70" y2="774.00" stroke="#000" stroke-width="1.7"/>
<path d="M98.05 774.00L103.00 768.85L107.95 774.00L103.00 779.15Z"/>
<text x="120.80" y="778.80" font-size="13.45">eNOS -/-</text>
<path d="M99.80 605.90L103.18 606.76L106.57 607.66L109.95 608.63L113.33 609.66L116.72 610.76L120.10 611.92L123.48 613.15L126.87 614.46L130.25 615.85L133.64 617.32L137.02 618.88L140.40 620.52L143.79 622.25L147.17 624.07L150.55 625.98L153.94 628.00L157.32 630.11L160.70 632.32L164.09 634.63L167.47 637.04L170.85 639.55L174.24 642.16L177.62 644.87L181.01 647.67L184.39 650.56L187.77 653.55L191.16 656.62L194.54 659.76L197.92 662.99L201.31 666.28L204.69 669.63L208.07 673.03L211.46 676.48L214.84 679.97L218.22 683.48L221.61 687.02L224.99 690.56L228.37 694.10L231.76 697.63L235.14 701.14L238.53 704.62L241.91 708.06L245.29 711.46L248.68 714.80L252.06 718.08L255.44 721.29L258.83 724.42L262.21 727.48L265.59 730.45L268.98 733.33L272.36 736.12L275.74 738.81L279.13 741.40L282.51 743.90L285.89 746.29L289.28 748.58L292.66 750.78L296.05 752.87L299.43 754.87L302.81 756.77L306.20 758.58L309.58 760.29L312.96 761.92L316.35 763.46L319.73 764.92L323.11 766.29L326.50 767.59L329.88 768.81L333.26 769.96L336.65 771.05L340.03 772.07L343.42 773.03L346.80 773.93L350.18 774.77L353.57 775.56L356.95 776.30L360.33 776.99L363.72 777.64L367.10 778.25" fill="none" stroke="#000" stroke-width="1.7" stroke-linejoin="round"/>
<path d="M99.80 605.20L103.18 607.02L106.57 608.95L109.95 611.00L113.33 613.16L116.72 615.45L120.10 617.86L123.48 620.39L126.87 623.05L130.25 625.84L133.64 628.75L137.02 631.79L140.40 634.95L143.79 638.23L147.17 641.63L150.55 645.13L153.94 648.74L157.32 652.44L160.70 656.23L164.09 660.09L167.47 664.01L170.85 667.99L174.24 672.02L177.62 676.07L181.01 680.13L184.39 684.20L187.77 688.26L191.16 692.29L194.54 696.29L197.92 700.23L201.31 704.12L204.69 707.93L208.07 711.66L211.46 715.30L214.84 718.84L218.22 722.28L221.61 725.60L224.99 728.80L228.37 731.88L231.76 734.84L235.14 737.67L238.53 740.38L241.91 742.96L245.29 745.41L248.68 747.74L252.06 749.94L255.44 752.03L258.83 754.00L262.21 755.86L265.59 757.61L268.98 759.25L272.36 760.80L275.74 762.24L279.13 763.60L282.51 764.87L285.89 766.05L289.28 767.16L292.66 768.19L296.05 769.15L299.43 770.05L302.81 770.88L306.20 771.66L309.58 772.38L312.96 773.05L316.35 773.67L319.73 774.25L323.11 774.78L326.50 775.28L329.88 775.74L333.26 776.16L336.65 776.56L340.03 776.92L343.42 777.26L346.80 777.57L350.18 777.86L353.57 778.13L356.95 778.38L360.33 778.61L363.72 778.82L367.10 779.01" fill="none" stroke="#000" stroke-width="1.7" stroke-linejoin="round"/>
<path d="M99.80 604.37L103.18 606.49L106.57 608.74L109.95 611.13L113.33 613.65L116.72 616.32L120.10 619.13L123.48 622.08L126.87 625.18L130.25 628.43L133.64 631.81L137.02 635.33L140.40 638.98L143.79 642.75L147.17 646.64L150.55 650.63L153.94 654.71L157.32 658.88L160.70 663.12L164.09 667.41L167.47 671.74L170.85 676.10L174.24 680.46L177.62 684.81L181.01 689.14L184.39 693.43L187.77 697.66L191.16 701.82L194.54 705.90L197.92 709.89L201.31 713.77L204.69 717.53L208.07 721.17L211.46 724.67L214.84 728.05L218.22 731.28L221.61 734.37L224.99 737.31L228.37 740.11L231.76 742.77L235.14 745.28L238.53 747.66L241.91 749.90L245.29 752.00L248.68 753.98L252.06 755.83L255.44 757.57L258.83 759.19L262.21 760.71L265.59 762.12L268.98 763.43L272.36 764.66L275.74 765.79L279.13 766.85L282.51 767.82L285.89 768.73L289.28 769.57L292.66 770.34L296.05 771.06L299.43 771.72L302.81 772.34L306.20 772.90L309.58 773.42L312.96 773.90L316.35 774.35L319.73 774.75L323.11 775.13L326.50 775.48L329.88 775.80L333.26 776.09L336.65 776.36L340.03 776.61L343.42 776.84L346.80 777.05L350.18 777.24L353.57 777.42L356.95 777.58L360.33 777.73L363.72 777.87L367.10 777.99" fill="none" stroke="#000" stroke-width="1.7" stroke-linejoin="round"/>
<line x1="144.35" y1="625.60" x2="144.35" y2="632.00" stroke="#000" stroke-width="1.8"/>
<line x1="139.90" y1="632.00" x2="148.80" y2="632.00" stroke="#000" stroke-width="1.8"/>
<line x1="144.35" y1="632.00" x2="144.35" y2="647.00" stroke="#000" stroke-width="1.8"/>
<line x1="233.45" y1="698.00" x2="233.45" y2="712.90" stroke="#000" stroke-width="1.8"/>
<line x1="229.00" y1="712.90" x2="237.90" y2="712.90" stroke="#000" stroke-width="1.8"/>
<line x1="278.00" y1="741.30" x2="278.00" y2="762.50" stroke="#000" stroke-width="1.8"/>
<line x1="273.55" y1="762.50" x2="282.45" y2="762.50" stroke="#000" stroke-width="1.8"/>
<line x1="144.35" y1="641.20" x2="144.35" y2="650.40" stroke="#000" stroke-width="1.8"/>
<line x1="139.90" y1="647.20" x2="148.80" y2="647.20" stroke="#000" stroke-width="1.8"/>
<line x1="139.90" y1="650.40" x2="148.80" y2="650.40" stroke="#000" stroke-width="1.8"/>
<line x1="233.45" y1="733.00" x2="233.45" y2="740.60" stroke="#000" stroke-width="1.8"/>
<line x1="229.00" y1="740.60" x2="237.90" y2="740.60" stroke="#000" stroke-width="1.8"/>
<line x1="188.90" y1="698.60" x2="188.90" y2="709.00" stroke="#000" stroke-width="1.8"/>
<line x1="184.45" y1="709.00" x2="193.35" y2="709.00" stroke="#000" stroke-width="1.8"/>
<line x1="233.45" y1="741.00" x2="233.45" y2="757.30" stroke="#000" stroke-width="1.8"/>
<line x1="229.00" y1="741.00" x2="237.90" y2="741.00" stroke="#000" stroke-width="1.8"/>
<line x1="229.00" y1="757.30" x2="237.90" y2="757.30" stroke="#000" stroke-width="1.8"/>
<circle cx="99.80" cy="604.80" r="4.1"/>
<circle cx="144.35" cy="625.60" r="4.1"/>
<circle cx="188.90" cy="652.50" r="4.1"/>
<circle cx="233.45" cy="698.00" r="4.1"/>
<circle cx="278.00" cy="741.30" r="4.1"/>
<circle cx="322.55" cy="772.90" r="4.1"/>
<circle cx="367.10" cy="772.90" r="4.1"/>
<rect x="95.70" y="600.70" width="8.2" height="8.2"/>
<rect x="140.25" y="637.10" width="8.2" height="8.2"/>
<rect x="184.80" y="684.50" width="8.2" height="8.2"/>
<rect x="229.35" y="728.90" width="8.2" height="8.2"/>
<rect x="273.90" y="768.80" width="8.2" height="8.2"/>
<rect x="318.45" y="768.80" width="8.2" height="8.2"/>
<rect x="363.00" y="768.80" width="8.2" height="8.2"/>
<path d="M94.85 604.80L99.80 599.65L104.75 604.80L99.80 609.95Z"/>
<path d="M139.40 642.00L144.35 636.85L149.30 642.00L144.35 647.15Z"/>
<path d="M183.95 698.60L188.90 693.45L193.85 698.60L188.90 703.75Z"/>
<path d="M228.50 749.00L233.45 743.85L238.40 749.00L233.45 754.15Z"/>
<path d="M273.05 772.90L278.00 767.75L282.95 772.90L278.00 778.05Z"/>
<path d="M317.60 772.90L322.55 767.75L327.50 772.90L322.55 778.05Z"/>
<path d="M362.15 772.90L367.10 767.75L372.05 772.90L367.10 778.05Z"/>
<text x="189.40" y="730.82" font-size="16.8" text-anchor="middle" stroke="#000" stroke-width="0.35">*</text>
<text x="189.40" y="741.02" font-size="16.8" text-anchor="middle" stroke="#000" stroke-width="0.35">*</text>
<line x1="481.20" y1="601.30" x2="481.20" y2="778.40" stroke="#000" stroke-width="1.9"/>
<line x1="476.40" y1="602.30" x2="481.20" y2="602.30" stroke="#000" stroke-width="1.8"/>
<text x="474.80" y="606.30" font-size="11.4" font-weight="bold" text-anchor="end">0</text>
<line x1="476.40" y1="686.45" x2="481.20" y2="686.45" stroke="#000" stroke-width="1.8"/>
<text x="474.80" y="690.45" font-size="11.4" font-weight="bold" text-anchor="end">50</text>
<line x1="476.40" y1="770.60" x2="481.20" y2="770.60" stroke="#000" stroke-width="1.8"/>
<text x="474.80" y="774.60" font-size="11.4" font-weight="bold" text-anchor="end">100</text>
<line x1="496.35" y1="796.40" x2="767.35" y2="796.40" stroke="#000" stroke-width="1.9"/>
<line x1="497.30" y1="796.40" x2="497.30" y2="801.60" stroke="#000" stroke-width="1.8"/>
<text x="497.60" y="813.40" font-size="12" font-weight="bold" text-anchor="middle">-9.5</text>
<line x1="542.15" y1="796.40" x2="542.15" y2="801.60" stroke="#000" stroke-width="1.8"/>
<text x="542.45" y="813.40" font-size="12" font-weight="bold" text-anchor="middle">-9.0</text>
<line x1="587.00" y1="796.40" x2="587.00" y2="801.60" stroke="#000" stroke-width="1.8"/>
<text x="587.30" y="813.40" font-size="12" font-weight="bold" text-anchor="middle">-8.5</text>
<line x1="631.85" y1="796.40" x2="631.85" y2="801.60" stroke="#000" stroke-width="1.8"/>
<text x="632.15" y="813.40" font-size="12" font-weight="bold" text-anchor="middle">-8.0</text>
<line x1="676.70" y1="796.40" x2="676.70" y2="801.60" stroke="#000" stroke-width="1.8"/>
<text x="677.00" y="813.40" font-size="12" font-weight="bold" text-anchor="middle">-7.5</text>
<line x1="721.55" y1="796.40" x2="721.55" y2="801.60" stroke="#000" stroke-width="1.8"/>
<text x="721.85" y="813.40" font-size="12" font-weight="bold" text-anchor="middle">-7.0</text>
<line x1="766.40" y1="796.40" x2="766.40" y2="801.60" stroke="#000" stroke-width="1.8"/>
<text x="766.70" y="813.40" font-size="12" font-weight="bold" text-anchor="middle">-6.5</text>
<text x="574.40" y="838.80" font-size="20.6" font-weight="bold" textLength="113.00" lengthAdjust="spacingAndGlyphs">log [M] SNP</text>
<text x="445.80" y="756.90" font-size="21" font-weight="bold" textLength="136.00" lengthAdjust="spacingAndGlyphs" transform="rotate(-90 445.80 756.90)">Relaxation (%)</text>
<text x="504.30" y="714.90" font-size="20.2" font-weight="bold">CLP</text>
<line x1="491.20" y1="733.40" x2="508.60" y2="733.40" stroke="#000" stroke-width="1.7"/>
<circle cx="499.90" cy="733.40" r="4.1"/>
<text x="518.30" y="738.40" font-size="13.5">Young</text>
<line x1="491.20" y1="752.20" x2="508.60" y2="752.20" stroke="#000" stroke-width="1.7"/>
<rect x="495.80" y="748.10" width="8.2" height="8.2"/>
<text x="518.30" y="757.40" font-size="13.5">Aged</text>
<line x1="491.20" y1="770.70" x2="508.60" y2="770.70" stroke="#000" stroke-width="1.7"/>
<path d="M494.95 770.70L499.90 765.55L504.85 770.70L499.90 775.85Z"/>
<text x="518.30" y="776.20" font-size="13.5">eNOS -/-</text>
<path d="M497.30 605.99L500.71 607.23L504.11 608.57L507.52 610.02L510.93 611.60L514.33 613.30L517.74 615.14L521.14 617.12L524.55 619.25L527.96 621.53L531.36 623.97L534.77 626.58L538.18 629.35L541.58 632.29L544.99 635.40L548.39 638.69L551.80 642.13L555.21 645.74L558.61 649.50L562.02 653.41L565.43 657.45L568.83 661.62L572.24 665.89L575.65 670.24L579.05 674.67L582.46 679.14L585.86 683.65L589.27 688.16L592.68 692.65L596.08 697.11L599.49 701.52L602.90 705.85L606.30 710.08L609.71 714.21L613.12 718.21L616.52 722.07L619.93 725.78L623.33 729.33L626.74 732.73L630.15 735.95L633.55 739.01L636.96 741.89L640.37 744.61L643.77 747.16L647.18 749.55L650.58 751.78L653.99 753.86L657.40 755.79L660.80 757.58L664.21 759.24L667.62 760.77L671.02 762.19L674.43 763.49L677.84 764.69L681.24 765.80L684.65 766.81L688.05 767.74L691.46 768.59L694.87 769.36L698.27 770.08L701.68 770.73L705.09 771.32L708.49 771.86L711.90 772.35L715.31 772.80L718.71 773.21L722.12 773.59L725.52 773.93L728.93 774.24L732.34 774.52L735.74 774.77L739.15 775.01L742.56 775.22L745.96 775.41L749.37 775.59L752.77 775.74L756.18 775.89L759.59 776.02L762.99 776.14L766.40 776.25" fill="none" stroke="#000" stroke-width="1.7" stroke-linejoin="round"/>
<path d="M497.30 602.27L500.71 607.25L504.11 612.29L507.52 617.37L510.93 622.49L514.33 627.62L517.74 632.76L521.14 637.90L524.55 643.01L527.96 648.09L531.36 653.13L534.77 658.11L538.18 663.02L541.58 667.85L544.99 672.59L548.39 677.23L551.80 681.76L555.21 686.18L558.61 690.48L562.02 694.64L565.43 698.68L568.83 702.58L572.24 706.34L575.65 709.95L579.05 713.43L582.46 716.77L585.86 719.96L589.27 723.02L592.68 725.93L596.08 728.71L599.49 731.35L602.90 733.87L606.30 736.25L609.71 738.52L613.12 740.66L616.52 742.69L619.93 744.60L623.33 746.41L626.74 748.12L630.15 749.73L633.55 751.25L636.96 752.68L640.37 754.02L643.77 755.28L647.18 756.46L650.58 757.58L653.99 758.62L657.40 759.60L660.80 760.51L664.21 761.37L667.62 762.18L671.02 762.93L674.43 763.63L677.84 764.29L681.24 764.91L684.65 765.49L688.05 766.02L691.46 766.53L694.87 767.00L698.27 767.43L701.68 767.84L705.09 768.23L708.49 768.58L711.90 768.91L715.31 769.22L718.71 769.51L722.12 769.78L725.52 770.04L728.93 770.27L732.34 770.49L735.74 770.69L739.15 770.88L742.56 771.06L745.96 771.22L749.37 771.38L752.77 771.52L756.18 771.65L759.59 771.78L762.99 771.90L766.40 772.00" fill="none" stroke="#000" stroke-width="1.7" stroke-linejoin="round"/>
<path d="M497.30 604.22L500.71 608.08L504.11 612.19L507.52 616.56L510.93 621.19L514.33 626.05L517.74 631.14L521.14 636.44L524.55 641.92L527.96 647.56L531.36 653.32L534.77 659.18L538.18 665.10L541.58 671.03L544.99 676.94L548.39 682.80L551.80 688.56L555.21 694.19L558.61 699.67L562.02 704.96L565.43 710.04L568.83 714.89L572.24 719.51L575.65 723.87L579.05 727.98L582.46 731.82L585.86 735.41L589.27 738.75L592.68 741.83L596.08 744.68L599.49 747.30L602.90 749.71L606.30 751.91L609.71 753.92L613.12 755.75L616.52 757.41L619.93 758.92L623.33 760.29L626.74 761.53L630.15 762.64L633.55 763.65L636.96 764.56L640.37 765.38L643.77 766.11L647.18 766.77L650.58 767.37L653.99 767.90L657.40 768.38L660.80 768.81L664.21 769.19L667.62 769.53L671.02 769.84L674.43 770.12L677.84 770.36L681.24 770.59L684.65 770.78L688.05 770.96L691.46 771.12L694.87 771.26L698.27 771.39L701.68 771.50L705.09 771.60L708.49 771.69L711.90 771.77L715.31 771.84L718.71 771.91L722.12 771.96L725.52 772.01L728.93 772.06L732.34 772.10L735.74 772.14L739.15 772.17L742.56 772.20L745.96 772.22L749.37 772.25L752.77 772.27L756.18 772.29L759.59 772.30L762.99 772.32L766.40 772.33" fill="none" stroke="#000" stroke-width="1.7" stroke-linejoin="round"/>
<line x1="542.15" y1="640.50" x2="542.15" y2="695.50" stroke="#000" stroke-width="1.8"/>
<line x1="537.70" y1="653.60" x2="546.60" y2="653.60" stroke="#000" stroke-width="1.8"/>
<line x1="537.70" y1="657.50" x2="546.60" y2="657.50" stroke="#000" stroke-width="1.8"/>
<line x1="537.70" y1="685.00" x2="546.60" y2="685.00" stroke="#000" stroke-width="1.8"/>
<line x1="537.70" y1="695.50" x2="546.60" y2="695.50" stroke="#000" stroke-width="1.8"/>
<line x1="587.00" y1="680.00" x2="587.00" y2="697.80" stroke="#000" stroke-width="1.8"/>
<line x1="582.55" y1="697.80" x2="591.45" y2="697.80" stroke="#000" stroke-width="1.8"/>
<line x1="587.00" y1="721.60" x2="587.00" y2="746.10" stroke="#000" stroke-width="1.8"/>
<line x1="582.55" y1="726.90" x2="591.45" y2="726.90" stroke="#000" stroke-width="1.8"/>
<line x1="582.55" y1="730.40" x2="591.45" y2="730.40" stroke="#000" stroke-width="1.8"/>
<line x1="582.55" y1="746.10" x2="591.45" y2="746.10" stroke="#000" stroke-width="1.8"/>
<line x1="631.85" y1="746.10" x2="631.85" y2="750.40" stroke="#000" stroke-width="1.8"/>
<line x1="627.40" y1="750.40" x2="636.30" y2="750.40" stroke="#000" stroke-width="1.8"/>
<line x1="631.85" y1="757.10" x2="631.85" y2="769.70" stroke="#000" stroke-width="1.8"/>
<line x1="627.40" y1="757.10" x2="636.30" y2="757.10" stroke="#000" stroke-width="1.8"/>
<line x1="627.40" y1="769.70" x2="636.30" y2="769.70" stroke="#000" stroke-width="1.8"/>
<circle cx="497.30" cy="602.30" r="4.1"/>
<circle cx="542.15" cy="640.50" r="4.1"/>
<circle cx="587.00" cy="680.00" r="4.1"/>
<circle cx="631.85" cy="736.30" r="4.1"/>
<circle cx="676.70" cy="769.50" r="4.1"/>
<circle cx="721.55" cy="771.00" r="4.1"/>
<circle cx="766.40" cy="771.00" r="4.1"/>
<rect x="493.20" y="598.20" width="8.2" height="8.2"/>
<rect x="538.05" y="663.10" width="8.2" height="8.2"/>
<rect x="582.90" y="717.50" width="8.2" height="8.2"/>
<rect x="627.75" y="742.00" width="8.2" height="8.2"/>
<rect x="672.60" y="764.40" width="8.2" height="8.2"/>
<rect x="717.45" y="766.90" width="8.2" height="8.2"/>
<rect x="762.30" y="766.90" width="8.2" height="8.2"/>
<path d="M492.35 602.30L497.30 597.15L502.25 602.30L497.30 607.45Z"/>
<path d="M537.20 674.00L542.15 668.85L547.10 674.00L542.15 679.15Z"/>
<path d="M582.05 736.30L587.00 731.15L591.95 736.30L587.00 741.45Z"/>
<path d="M626.90 763.50L631.85 758.35L636.80 763.50L631.85 768.65Z"/>
<path d="M671.75 771.00L676.70 765.85L681.65 771.00L676.70 776.15Z"/>
<path d="M716.60 771.00L721.55 765.85L726.50 771.00L721.55 776.15Z"/>
<path d="M761.45 771.00L766.40 765.85L771.35 771.00L766.40 776.15Z"/>
<text x="587.20" y="765.62" font-size="16.8" text-anchor="middle" stroke="#000" stroke-width="0.35">*</text>
<text x="587.20" y="778.22" font-size="16.8" text-anchor="middle" stroke="#000" stroke-width="0.35">*</text>
</svg>
</body></html>
